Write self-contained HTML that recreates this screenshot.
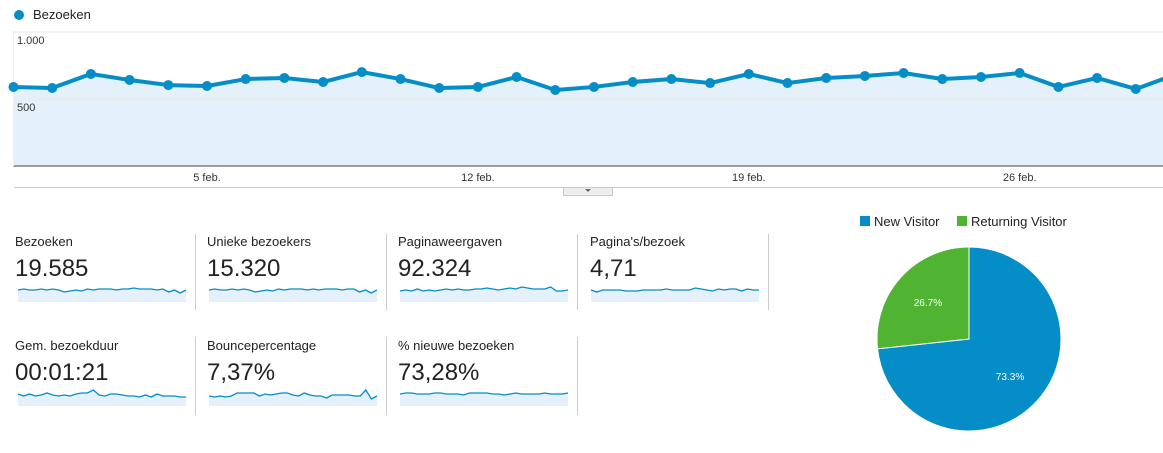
<!DOCTYPE html>
<html><head><meta charset="utf-8"><style>
body{margin:0;width:1163px;height:453px;background:#fff;font-family:"Liberation Sans",Arial,sans-serif;position:relative;overflow:hidden;color:#222}
.t{position:absolute;font-size:13px;color:#222}
.v{position:absolute;font-size:24px;color:#222}
.div{position:absolute;width:1px;background:#ccc}
</style></head><body>
<svg id="main" width="1163" height="200" style="position:absolute;left:0;top:0"></svg>
<svg id="spark" width="800" height="453" style="position:absolute;left:0;top:0"></svg>
<div class="t" style="left:15px;top:234px">Bezoeken</div>
<div class="v" style="left:15px;top:255px">19.585</div>
<div class="t" style="left:207px;top:234px">Unieke bezoekers</div>
<div class="v" style="left:207px;top:255px">15.320</div>
<div class="t" style="left:398px;top:234px">Paginaweergaven</div>
<div class="v" style="left:398px;top:255px">92.324</div>
<div class="t" style="left:590px;top:234px">Pagina's/bezoek</div>
<div class="v" style="left:590px;top:255px">4,71</div>
<div class="t" style="left:15px;top:338px">Gem. bezoekduur</div>
<div class="v" style="left:15px;top:359px">00:01:21</div>
<div class="t" style="left:207px;top:338px">Bouncepercentage</div>
<div class="v" style="left:207px;top:359px">7,37%</div>
<div class="t" style="left:398px;top:338px">% nieuwe bezoeken</div>
<div class="v" style="left:398px;top:359px">73,28%</div>
<div class="div" style="left:195px;top:234px;height:76px"></div>
<div class="div" style="left:386px;top:234px;height:76px"></div>
<div class="div" style="left:577px;top:234px;height:76px"></div>
<div class="div" style="left:768px;top:234px;height:76px"></div>
<div class="div" style="left:195px;top:337px;height:78px"></div>
<div class="div" style="left:386px;top:337px;height:78px"></div>
<div class="div" style="left:577px;top:337px;height:78px"></div>
<svg id="pie" width="330" height="253" style="position:absolute;left:833px;top:200px"></svg>
<script>
const NS="http://www.w3.org/2000/svg";
function mk(p,t,a){const e=document.createElementNS(NS,t);for(const k in a)e.setAttribute(k,a[k]);p.appendChild(e);return e;}
// main chart data
const days=["31 jan","1 feb","2 feb","3 feb","4 feb","5 feb","6 feb","7 feb","8 feb","9 feb","10 feb","11 feb","12 feb","13 feb","14 feb","15 feb","16 feb","17 feb","18 feb","19 feb","20 feb","21 feb","22 feb","23 feb","24 feb","25 feb","26 feb","27 feb","28 feb","29 feb","1 mrt"];
const visits=[590,582,687,642,604,597,649,657,627,701,649,582,590,664,567,590,627,649,619,687,619,657,672,694,649,664,694,590,657,575,680];
const yTicks=[500,1000];
const yTickLabels=["500","1.000"];
const xTickIdx=[5,12,19,26];
const xTickLabels=["5 feb.","12 feb.","19 feb.","26 feb."];
const m=document.getElementById('main');
const X=i=>13.5+i*38.7, Y=v=>166-v*67/500;
let e;
e=mk(m,'circle',{cx:19,cy:15,r:5,fill:'#058dc7'});


e=mk(m,'text',{x:33,y:19,'font-size':13,fill:'#222','font-family':'Liberation Sans'});e.textContent='Bezoeken';


let area='M'+X(0)+',166';visits.forEach((v,i)=>area+=' L'+X(i)+','+Y(v));area+=' L'+X(visits.length-1)+',166Z';
e=mk(m,'path',{d:area,fill:'#e5f1fa'});


yTicks.forEach((t,i)=>{
 e=mk(m,'line',{x1:13,x2:1163,y1:Y(t),y2:Y(t),stroke:'#e6e6e6'});
 
 
 e=mk(m,'text',{x:17,y:Y(t)+12,'font-size':11,fill:'#333'});e.textContent=yTickLabels[i];
 
 
});
e=mk(m,'line',{x1:13,x2:1163,y1:166,y2:166,stroke:'#444','stroke-width':1});


e=mk(m,'line',{x1:13.5,x2:13.5,y1:31,y2:166,stroke:'#eee'});


e=mk(m,'polyline',{points:visits.map((v,i)=>X(i)+','+Y(v)).join(' '),fill:'none',stroke:'#058dc7','stroke-width':4,'stroke-linejoin':'round'});


visits.forEach((v,i)=>{e=mk(m,'circle',{cx:X(i),cy:Y(v),r:5,fill:'#058dc7'});
 
 });
xTickIdx.forEach((d,i)=>{e=mk(m,'text',{x:X(d),y:181,'font-size':11,fill:'#333','text-anchor':'middle'});e.textContent=xTickLabels[i];
 
 });
e=mk(m,'line',{x1:14,x2:1163,y1:187.5,y2:187.5,stroke:'#ccc'});


e=mk(m,'rect',{x:563.5,y:187.5,width:49,height:8,fill:'#eee',stroke:'#ccc'});


e=mk(m,'path',{d:'M585,189 L591,189 L588,192Z',fill:'#666'});



// sparklines data
const sparkVisits=[5,6,5,5,6,5,6,5,3,4,5,4,6,5,6,6,6,5,6,6,7,6,6,6,5,6,3,5,2,5];
const sparkUnique=[5,6,5,5,6,5,6,5,3,4,5,4,6,5,6,6,6,5,6,5,6,6,6,5,6,6,3,5,2,5];
const sparkPageviews=[4,5,4,6,4,5,4,5,6,5,6,5,5,6,6,7,6,5,6,7,6,8,7,6,6,6,8,4,4,5];
const sparkPages=[5,3,5,5,5,5,4,4,4,5,5,5,5,6,5,5,5,5,7,6,5,4,6,5,6,6,4,6,5,5];
const sparkDuration=[5,3,5,3,4,6,4,3,4,3,5,6,6,9,4,3,5,5,4,3,3,2,4,2,5,3,3,3,2,2];
const sparkBounce=[3,2,3,2,3,6,6,6,6,3,5,4,5,6,6,4,3,6,4,3,3,1,4,4,4,4,3,3,9,0,3];
const sparkNew=[5,6,6,5,5,5,6,6,5,5,5,4,6,6,6,6,5,5,4,5,6,5,5,5,5,6,5,5,5,6];
const sparks=[[sparkVisits,18,283,'visits'],[sparkUnique,209,283,'unique'],[sparkPageviews,400,283,'pageviews'],[sparkPages,591,283,'pages-per-visit'],[sparkDuration,18,387,'duration'],[sparkBounce,209,387,'bounce'],[sparkNew,400,387,'new-visits']];
const s=document.getElementById('spark');
sparks.forEach(([d,x0,y0,n])=>{
 const W=168,H=19,max=10;
 const sx=i=>x0+i*W/(d.length-1), sy=v=>y0+12-v*10/max*1;
 let p='M'+x0+','+(y0+H);d.forEach((v,i)=>p+=' L'+sx(i)+','+sy(v));p+=' L'+(x0+W)+','+(y0+H)+'Z';
 e=mk(s,'path',{d:p,fill:'#e5f1fa'});
 
 
 e=mk(s,'polyline',{points:d.map((v,i)=>sx(i)+','+sy(v)).join(' '),fill:'none',stroke:'#058dc7','stroke-width':1.3});
 
 
});

// pie
const pieLabels=["New Visitor","Returning Visitor"];
const pieValues=[73.3,26.7];
const pieColors=['#058dc7','#50b432'];
const pg=document.getElementById('pie');
const cx=136,cy=139,r=92;
let lx=27;
pieLabels.forEach((l,i)=>{
 e=mk(pg,'rect',{x:lx,y:16,width:10,height:10,fill:pieColors[i]});
 
 
 e=mk(pg,'text',{x:lx+14,y:26,'font-size':13,fill:'#222'});e.textContent=l;
 
 
 lx+=97;
});
const tot=pieValues.reduce((a,b)=>a+b,0);
let a0=-Math.PI/2;
pieValues.forEach((v,i)=>{
 const a1=a0+v/tot*2*Math.PI;
 const large=(a1-a0)>Math.PI?1:0;
 const d='M'+cx+','+cy+' L'+(cx+r*Math.cos(a0))+','+(cy+r*Math.sin(a0))+' A'+r+','+r+' 0 '+large+' 1 '+(cx+r*Math.cos(a1))+','+(cy+r*Math.sin(a1))+'Z';
 e=mk(pg,'path',{d:d,fill:pieColors[i],stroke:'#fff','stroke-width':1});
 
 
 const am=(a0+a1)/2;
 e=mk(pg,'text',{x:cx+r*0.6*Math.cos(am),y:cy+r*0.6*Math.sin(am)+4,'font-size':10,fill:'#fff','text-anchor':'middle'});
 e.textContent=v.toFixed(1)+'%';
 
 
 a0=a1;
});
</script>
</body></html>
